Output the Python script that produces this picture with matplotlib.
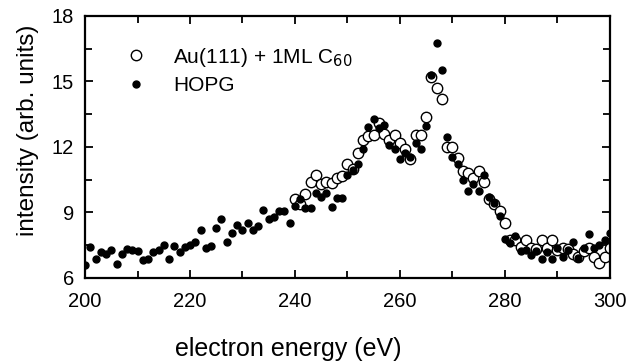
import numpy as np
import matplotlib
matplotlib.use("Agg")
import matplotlib.pyplot as plt
from matplotlib.ticker import MultipleLocator

plt.rcParams['font.family'] = ['Liberation Sans', 'DejaVu Sans']

# --- data ---
hopg_energy = list(range(200, 301))
hopg_intensity = [
    6.6, 7.4, 6.87, 7.2, 7.1, 7.3, 6.64, 7.1, 7.33, 7.3,
    7.25, 6.8, 6.86, 7.2, 7.3, 7.5, 6.87, 7.47, 7.2, 7.4,
    7.5, 7.65, 8.2, 7.37, 7.47, 8.3, 8.7, 7.65, 8.05, 8.43,
    8.2, 8.5, 8.2, 8.4, 9.1, 8.7, 8.8, 9.07, 9.07, 8.5,
    9.3, 9.6, 9.2, 9.2, 9.9, 9.7, 9.9, 9.25, 9.65, 9.65,
    10.7, 10.95, 11.2, 11.9, 12.9, 13.3, 12.85, 13.0, 12.1, 11.9,
    11.45, 11.7, 11.55, 12.2, 11.9, 12.95, 15.3, 16.75, 15.5, 12.45,
    11.55, 11.2, 10.5, 10.0, 10.3, 10.0, 10.7, 9.7, 9.45, 8.85,
    7.8, 7.6, 7.9, 7.25, 7.3, 7.05, 7.25, 6.87, 7.2, 6.87,
    7.37, 6.96, 7.3, 7.65, 6.9, 7.37, 8.0, 7.37, 7.5, 7.75,
    8.05,
]

au_energy = list(range(240, 301))
au_intensity = [
    9.6, 9.4, 9.85, 10.4, 10.7, 10.3, 10.4, 10.35, 10.6, 10.65,
    11.2, 11.0, 11.7, 12.3, 12.5, 12.55, 13.1, 12.6, 12.3, 12.55,
    12.2, 11.9, 11.45, 12.55, 12.55, 13.35, 15.2, 14.7, 14.2, 12.0,
    12.0, 11.5, 10.9, 10.8, 10.6, 10.9, 10.4, 9.6, 9.4, 9.07,
    8.5, 7.75, 7.75, 7.4, 7.75, 7.37, 7.33, 7.75, 7.37, 7.75,
    7.3, 7.37, 7.33, 7.1, 6.96, 7.25, 7.37, 6.96, 6.7, 6.96,
    7.37,
]

fig = plt.figure(figsize=(6.3, 3.61), dpi=100)
ax = fig.add_axes([0.135, 0.23, 0.833, 0.726])

ax.plot(au_energy, au_intensity, 'o', ms=7.5, mfc='white', mec='black',
        mew=1.0, label=r'Au(111) + 1ML C$_{60}$', zorder=2)
ax.plot(hopg_energy, hopg_intensity, 'o', ms=5, color='black',
        label='HOPG', zorder=3)

ax.set_xlim(200, 300)
ax.set_ylim(6, 18)
ax.xaxis.set_major_locator(MultipleLocator(20))
ax.xaxis.set_minor_locator(MultipleLocator(10))
ax.yaxis.set_major_locator(MultipleLocator(3))
ax.yaxis.set_minor_locator(MultipleLocator(1.5))
ax.tick_params(which='both', direction='in', top=True, right=True,
               width=1.3, labelsize=14.5)
ax.tick_params(which='major', length=6)
ax.tick_params(which='minor', length=5)
ax.tick_params(axis='x', pad=10)
ax.tick_params(axis='y', pad=8)
for s in ax.spines.values():
    s.set_linewidth(1.6)

ax.set_xlabel('electron energy (eV)', fontsize=18)
ax.xaxis.set_label_coords(0.387, -0.225)
ax.set_ylabel('intensity (arb. units)', fontsize=17.5)
ax.yaxis.set_label_coords(-0.087, 0.565)

ax.legend(loc='upper left', frameon=False, fontsize=15, handletextpad=0.8,
          borderaxespad=0.4, labelspacing=0.35, bbox_to_anchor=(0.025, 0.95))

fig.savefig('out.png', dpi=100)
